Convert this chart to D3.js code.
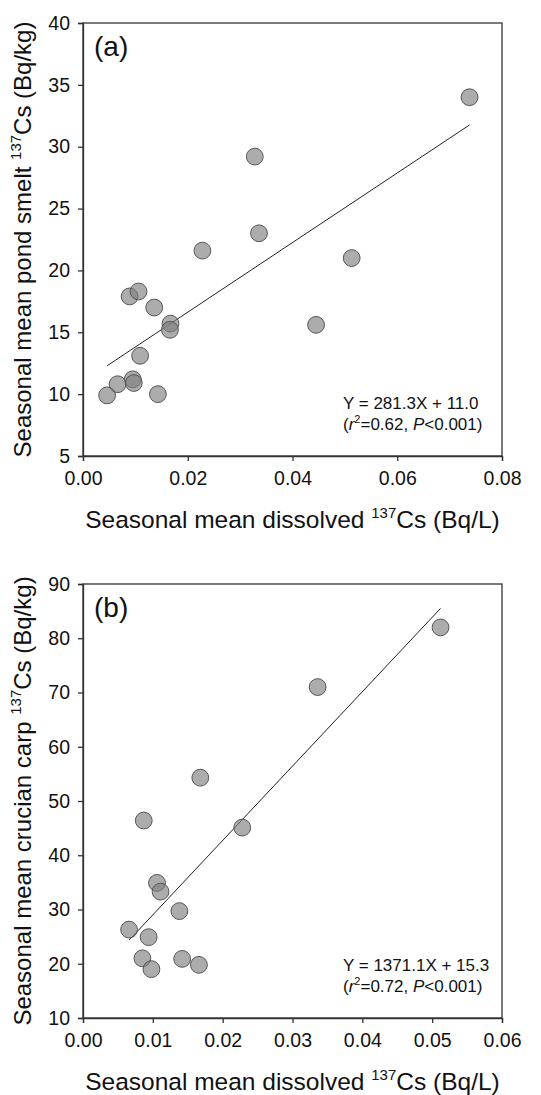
<!DOCTYPE html>
<html>
<head>
<meta charset="utf-8">
<script src="https://cdn.jsdelivr.net/npm/d3@7"></script>
<style>
  body { margin: 0; background: #fff; }
  svg { display: block; font-family: "Liberation Sans", Arial, sans-serif; }
  .axis path, .axis line { stroke: #333; stroke-width: 1.3; }
  .axis text { fill: #111; font-size: 19.5px; font-family: "Liberation Sans", Arial, sans-serif; }
</style>
</head>
<body>
<svg width="541" height="1095"></svg>
<script>
// panel (a): pond smelt vs dissolved 137Cs
var smeltX = [0.0738, 0.0328, 0.0336, 0.0228, 0.0513, 0.0445, 0.0089, 0.0106, 0.0136, 0.0167, 0.0166, 0.0109, 0.0095, 0.0097, 0.0066, 0.0046, 0.0143];
var smeltY = [34.0, 29.2, 23.0, 21.6, 21.0, 15.6, 17.9, 18.3, 17.0, 15.7, 15.2, 13.1, 11.2, 10.9, 10.8, 9.9, 10.0];
var smeltXTicks = [0, 0.02, 0.04, 0.06, 0.08];
var smeltYTicks = [5, 10, 15, 20, 25, 30, 35, 40];
var smeltFit = [281.3, 11.0];

// panel (b): crucian carp vs dissolved 137Cs
var carpX = [0.0512, 0.0336, 0.0168, 0.0087, 0.0228, 0.0106, 0.0111, 0.0138, 0.0066, 0.0094, 0.0085, 0.0098, 0.0142, 0.0166];
var carpY = [82.0, 71.0, 54.3, 46.4, 45.1, 34.9, 33.3, 29.7, 26.3, 24.9, 21.0, 19.0, 20.9, 19.8];
var carpXTicks = [0, 0.01, 0.02, 0.03, 0.04, 0.05, 0.06];
var carpYTicks = [10, 20, 30, 40, 50, 60, 70, 80, 90];
var carpFit = [1371.1, 15.3];

var svg = d3.select("svg");

function drawPanel(opt) {
  var width = 419, height = opt.height;
  var g = svg.append("g")
      .attr("transform", "translate(83," + opt.top + ")");

  var x = d3.scaleLinear().domain(d3.extent(opt.xTicks)).range([0, width]),
      y = d3.scaleLinear().domain(d3.extent(opt.yTicks)).range([height, 0]);

  // frame
  g.append("rect")
      .attr("width", width)
      .attr("height", height)
      .attr("fill", "none")
      .attr("stroke", "#333")
      .attr("stroke-width", 1.3);

  g.append("g")
      .attr("class", "axis")
      .attr("transform", "translate(0," + height + ")")
      .call(d3.axisBottom(x).tickValues(opt.xTicks).tickFormat(d3.format(".2f")).tickSizeOuter(0).tickSize(5).tickPadding(10));

  g.append("g")
      .attr("class", "axis")
      .call(d3.axisLeft(y).tickValues(opt.yTicks).tickFormat(d3.format("d")).tickSizeOuter(0).tickSize(5).tickPadding(8));

  // regression line over the data range
  var ext = d3.extent(opt.xs);
  g.append("line")
      .attr("x1", x(ext[0]))
      .attr("y1", y(opt.fit[0] * ext[0] + opt.fit[1]))
      .attr("x2", x(ext[1]))
      .attr("y2", y(opt.fit[0] * ext[1] + opt.fit[1]))
      .attr("stroke", "#222")
      .attr("stroke-width", 1);

  g.selectAll(".dot")
    .data(opt.xs.map(function(d, i) { return [d, opt.ys[i]]; }))
    .enter().append("circle")
      .attr("class", "dot")
      .attr("cx", function(d) { return x(d[0]); })
      .attr("cy", function(d) { return y(d[1]); })
      .attr("r", 8.4)
      .attr("fill", "#808080")
      .attr("fill-opacity", 0.65)
      .attr("stroke", "#555")
      .attr("stroke-width", 1);

  g.append("text")
      .attr("x", 11)
      .attr("y", 33)
      .attr("font-size", 28)
      .attr("fill", "#111")
      .text(opt.label);

  // equation
  g.append("text")
      .attr("x", 260)
      .attr("y", height - 47)
      .attr("font-size", 17)
      .attr("fill", "#111")
      .text(opt.eq1);
  var l2 = g.append("text")
      .attr("x", 260)
      .attr("y", height - 26)
      .attr("font-size", 17)
      .attr("fill", "#111");
  l2.append("tspan").text("(");
  l2.append("tspan").attr("font-style", "italic").text("r");
  l2.append("tspan").attr("font-size", 11).attr("dy", -7).text("2");
  l2.append("tspan").attr("dy", 7).text("=" + opt.r2 + ", ");
  l2.append("tspan").attr("font-style", "italic").text("P");
  l2.append("tspan").text("<0.001)");

  // x title
  var xt = g.append("text")
      .attr("x", width / 2)
      .attr("y", height + 72)
      .attr("text-anchor", "middle")
      .attr("font-size", 24.5)
      .attr("fill", "#111");
  xt.append("tspan").text("Seasonal mean dissolved ");
  xt.append("tspan").attr("font-size", 15).attr("dy", -10).text("137");
  xt.append("tspan").attr("dy", 10).text("Cs (Bq/L)");

  // y title
  var yt = g.append("text")
      .attr("transform", "rotate(-90)")
      .attr("x", -height / 2)
      .attr("y", -52)
      .attr("text-anchor", "middle")
      .attr("font-size", 24)
      .attr("fill", "#111");
  yt.append("tspan").text(opt.yName + " ");
  yt.append("tspan").attr("font-size", 15).attr("dy", -10).text("137");
  yt.append("tspan").attr("dy", 10).text("Cs (Bq/kg)");
}

drawPanel({top: 23, height: 433, xs: smeltX, ys: smeltY, xTicks: smeltXTicks, yTicks: smeltYTicks,
  fit: smeltFit, label: "(a)", eq1: "Y = 281.3X + 11.0", r2: "0.62",
  yName: "Seasonal mean pond smelt"});

drawPanel({top: 584, height: 434, xs: carpX, ys: carpY, xTicks: carpXTicks, yTicks: carpYTicks,
  fit: carpFit, label: "(b)", eq1: "Y = 1371.1X + 15.3", r2: "0.72",
  yName: "Seasonal mean crucian carp"});
</script>
</body>
</html>
